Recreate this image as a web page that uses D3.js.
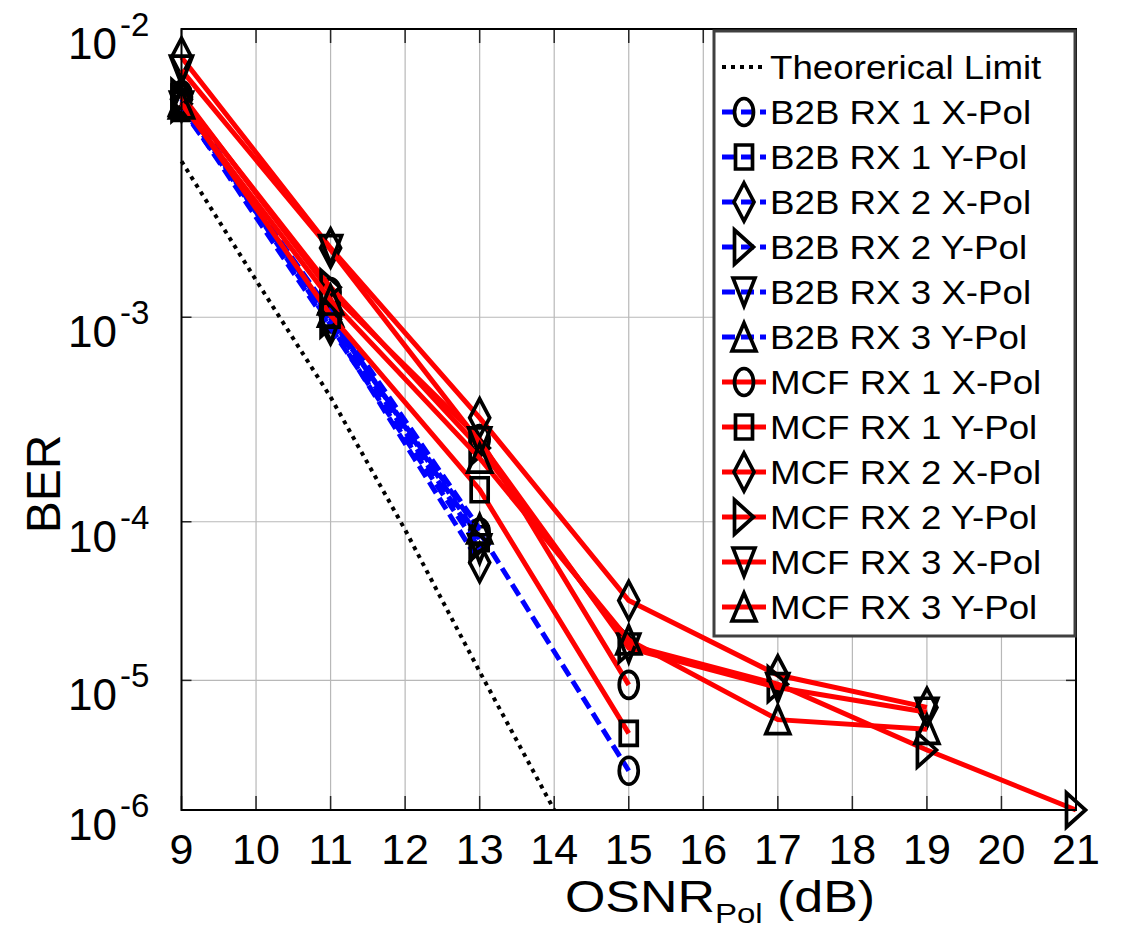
<!DOCTYPE html>
<html>
<head>
<meta charset="utf-8">
<script src="https://cdn.jsdelivr.net/npm/d3@7"></script>
<style>
  body { margin: 0; background: #fff; }
  svg { display: block; font-family: "Liberation Sans", Arial, sans-serif; }
</style>
</head>
<body>
<div id="chart"></div>
<script>
var width = 1124,
    height = 931;

// x values (OSNR, dB)
const theoryOsnr = [9, 10, 11, 12, 13, 14];
const b2bOsnr = [9, 11, 13, 15];
const mcfOsnr = [9, 11, 13, 15, 17, 19, 21];

// BER values
const theoryBer = [3.9e-3, 1.42e-3, 4.4e-4, 9.0e-5, 1.15e-5, 1.0e-6];

const b2bRx1X = [6.3e-3, 9.9e-4, 8.7e-5, 2.1e-6];
const b2bRx1Y = [5.8e-3, 1.02e-3, 8.0e-5];
const b2bRx2X = [6.2e-3, 9.3e-4, 5.8e-5];
const b2bRx2Y = [6.0e-3, 9.8e-4, 7.5e-5];
const b2bRx3X = [5.9e-3, 9.0e-4, 7.0e-5];
const b2bRx3Y = [6.1e-3, 1.05e-3, 9.1e-5];

const mcfRx1X = [6.4e-3, 1.27e-3, 2.75e-4, 9.3e-6];
const mcfRx1Y = [6.1e-3, 1.02e-3, 1.5e-4, 4.1e-6];
const mcfRx2X = [8.3e-3, 1.90e-3, 3.5e-4, 3.4e-5, 1.09e-5, 6.4e-6];
const mcfRx2Y = [6.3e-3, 1.33e-3, 2.48e-4, 1.75e-5, 9.4e-6, 3.06e-6, 1.0e-6];
const mcfRx3X = [7.6e-3, 1.87e-3, 2.66e-4, 1.67e-5, 8.9e-6, 5.9e-6];
const mcfRx3Y = [6.0e-3, 1.18e-3, 2.2e-4, 1.89e-5, 5.2e-6, 4.4e-6];

// ticks
const xTicks = [9, 10, 11, 12, 13, 14, 15, 16, 17, 18, 19, 20, 21];
const yTicks = [1e-2, 1e-3, 1e-4, 1e-5, 1e-6];
const yTickExp = ["-2", "-3", "-4", "-5", "-6"];

const seriesNames = ["B2B RX 1 X-Pol", "B2B RX 1 Y-Pol", "B2B RX 2 X-Pol", "B2B RX 2 Y-Pol", "B2B RX 3 X-Pol", "B2B RX 3 Y-Pol",
                     "MCF RX 1 X-Pol", "MCF RX 1 Y-Pol", "MCF RX 2 X-Pol", "MCF RX 2 Y-Pol", "MCF RX 3 X-Pol", "MCF RX 3 Y-Pol"];
const seriesBer = [b2bRx1X, b2bRx1Y, b2bRx2X, b2bRx2Y, b2bRx3X, b2bRx3Y,
                   mcfRx1X, mcfRx1Y, mcfRx2X, mcfRx2Y, mcfRx3X, mcfRx3Y];
const markerTypes = ["circle", "square", "diamond", "right", "down", "up"];

var plot = {left: 181.5, right: 1076, top: 29, bottom: 810};

var svg = d3.select("#chart").append("svg")
    .attr("width", width)
    .attr("height", height);

var xScale = d3.scaleLinear().domain([9, 21]).range([plot.left, plot.right]);

// BER axis uses log(-log(BER)) so the curves come out straight
var qTransform = function(v) { return Math.log10(-Math.log10(v)); };
var qScale = d3.scaleLinear().domain([qTransform(1e-2), qTransform(1e-6)]).range([plot.top, plot.bottom]);
var yScale = function(v) { return qScale(qTransform(v)); };

// grid
svg.append("g").selectAll("line")
    .data(xTicks.slice(1, -1))
    .enter().append("line")
    .attr("x1", d => xScale(d)).attr("x2", d => xScale(d))
    .attr("y1", plot.top).attr("y2", plot.bottom)
    .attr("stroke", "#b8b8b8").attr("stroke-width", 1.2);

svg.append("g").selectAll("line")
    .data(yTicks.slice(1, -1))
    .enter().append("line")
    .attr("x1", plot.left).attr("x2", plot.right)
    .attr("y1", d => yScale(d)).attr("y2", d => yScale(d))
    .attr("stroke", "#b8b8b8").attr("stroke-width", 1.2);

// tick marks (inside, both sides)
var ticks = svg.append("g").attr("stroke", "#262626").attr("stroke-width", 1.5);
xTicks.forEach(function(t) {
    ticks.append("line").attr("x1", xScale(t)).attr("x2", xScale(t)).attr("y1", plot.bottom).attr("y2", plot.bottom - 14);
    ticks.append("line").attr("x1", xScale(t)).attr("x2", xScale(t)).attr("y1", plot.top).attr("y2", plot.top + 14);
});
yTicks.forEach(function(t) {
    ticks.append("line").attr("x1", plot.left).attr("x2", plot.left + 10).attr("y1", yScale(t)).attr("y2", yScale(t));
    ticks.append("line").attr("x1", plot.right).attr("x2", plot.right - 10).attr("y1", yScale(t)).attr("y2", yScale(t));
});

// marker shapes, sizes in px (w, h)
var markerSize = {
    circle: [19, 27], square: [17, 24], diamond: [20, 38],
    right: [19, 34], down: [22, 28], up: [24, 28]
};
function markerPath(type) {
    var w = markerSize[type][0] / 2, h = markerSize[type][1] / 2;
    switch (type) {
        case "circle":
            return "M" + (-w) + ",0A" + w + "," + h + " 0 1,0 " + w + ",0A" + w + "," + h + " 0 1,0 " + (-w) + ",0Z";
        case "square":
            return "M" + (-w) + "," + (-h) + "H" + w + "V" + h + "H" + (-w) + "Z";
        case "diamond":
            return "M0," + (-h) + "L" + w + ",0L0," + h + "L" + (-w) + ",0Z";
        case "right":
            return "M" + (-w) + "," + (-h) + "L" + w + ",0L" + (-w) + "," + h + "Z";
        case "down":
            return "M" + (-w) + "," + (-h) + "L" + w + "," + (-h) + "L0," + h + "Z";
        case "up":
            return "M0," + (-h) + "L" + w + "," + h + "L" + (-w) + "," + h + "Z";
    }
}

var line = d3.line()
    .x(d => xScale(d.x))
    .y(d => yScale(d.y));

// theoretical limit
svg.append("path")
    .datum(theoryOsnr.map((x, i) => ({x: x, y: theoryBer[i]})))
    .attr("d", line)
    .attr("fill", "none")
    .attr("stroke", "#000")
    .attr("stroke-width", 4)
    .attr("stroke-dasharray", "4,5");

var series = seriesNames.map(function(name, i) {
    var isB2B = i < 6;
    var xs = isB2B ? b2bOsnr : mcfOsnr;
    return {
        name: name,
        values: seriesBer[i].map((v, j) => ({x: xs[j], y: v})),
        color: isB2B ? "#0000ff" : "#ff0000",
        dash: isB2B ? "13,6" : null,
        marker: markerTypes[i % 6]
    };
});

series.forEach(function(s) {
    var g = svg.append("g");
    g.append("path")
        .datum(s.values)
        .attr("d", line)
        .attr("fill", "none")
        .attr("stroke", s.color)
        .attr("stroke-width", 5)
        .attr("stroke-dasharray", s.dash);
    g.selectAll(".mk")
        .data(s.values)
        .enter().append("path")
        .attr("class", "mk")
        .attr("d", markerPath(s.marker))
        .attr("transform", d => "translate(" + xScale(d.x) + "," + yScale(d.y) + ")")
        .attr("fill", "none")
        .attr("stroke", "#000")
        .attr("stroke-width", 3.7);
});

// axis box
svg.append("rect")
    .attr("x", plot.left).attr("y", plot.top)
    .attr("width", plot.right - plot.left).attr("height", plot.bottom - plot.top)
    .attr("fill", "none").attr("stroke", "#000").attr("stroke-width", 2);

// x tick labels
svg.append("g").selectAll("text")
    .data(xTicks)
    .enter().append("text")
    .attr("x", d => xScale(d))
    .attr("y", plot.bottom + 54)
    .attr("text-anchor", "middle")
    .attr("font-size", 43)
    .text(d => d);

// y tick labels 10^-n
var yl = svg.append("g");
yl.selectAll(".base")
    .data(yTicks)
    .enter().append("text")
    .attr("class", "base")
    .attr("x", 117)
    .attr("y", d => yScale(d) + 30)
    .attr("text-anchor", "end")
    .attr("font-size", 44)
    .text("10");
yl.selectAll(".exp")
    .data(yTicks)
    .enter().append("text")
    .attr("class", "exp")
    .attr("x", 120)
    .attr("y", d => yScale(d) + 7)
    .attr("font-size", 33)
    .text((d, i) => yTickExp[i]);

// axis titles
svg.append("text")
    .attr("transform", "translate(60,484) rotate(-90)")
    .attr("text-anchor", "middle")
    .attr("font-size", 48)
    .text("BER");

var xt = svg.append("text")
    .attr("transform", "translate(720,912) scale(1.18,1)")
    .attr("text-anchor", "middle")
    .attr("font-size", 44);
xt.append("tspan").text("OSNR");
xt.append("tspan").attr("dy", 11).attr("font-size", 28).text("Pol");
xt.append("tspan").attr("dy", -11).text(" (dB)");

// legend
var legend = svg.append("g");
legend.append("rect")
    .attr("x", 714).attr("y", 31)
    .attr("width", 361).attr("height", 605)
    .attr("fill", "#fff").attr("stroke", "#404040").attr("stroke-width", 3);

var legendItems = [{name: "Theorerical Limit", color: "#000", dash: "4,5", marker: null, width: 4}]
    .concat(series.map(s => ({name: s.name, color: s.color, dash: s.dash, marker: s.marker, width: 5})));

legendItems.forEach(function(item, i) {
    var cy = 67 + 45 * i;
    legend.append("line")
        .attr("x1", 722).attr("x2", 766)
        .attr("y1", cy).attr("y2", cy)
        .attr("stroke", item.color)
        .attr("stroke-width", item.width)
        .attr("stroke-dasharray", item.dash);
    if (item.marker) {
        legend.append("path")
            .attr("d", markerPath(item.marker))
            .attr("transform", "translate(744," + cy + ")")
            .attr("fill", "none")
            .attr("stroke", "#000")
            .attr("stroke-width", 3.7);
    }
    legend.append("text")
        .attr("transform", "translate(770," + (cy + 12) + ") scale(1.08,1)")
        .attr("font-size", 34)
        .text(item.name);
});
</script>
</body>
</html>
